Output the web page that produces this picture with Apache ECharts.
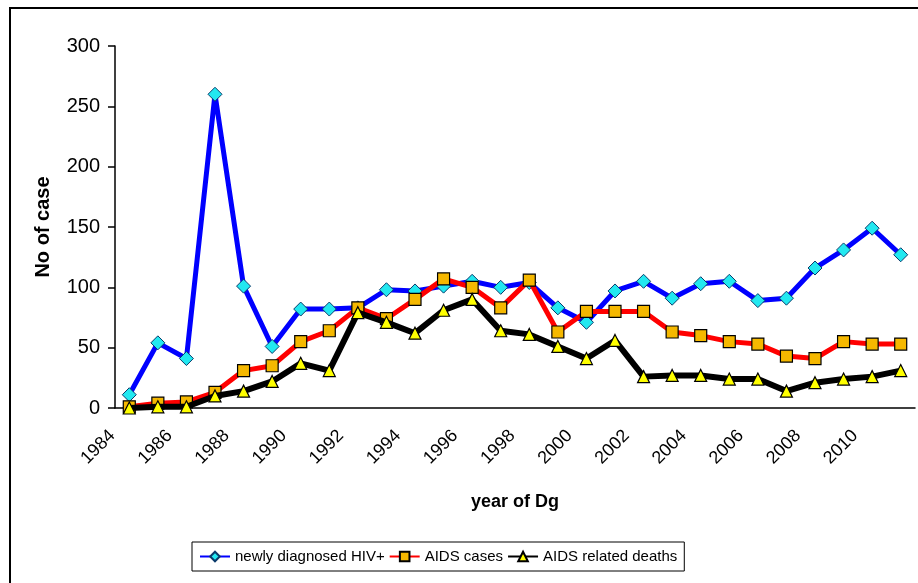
<!DOCTYPE html>
<html>
<head>
<meta charset="utf-8">
<script src="https://cdn.jsdelivr.net/npm/echarts@6/dist/echarts.min.js"></script>
<style>
  html, body { margin: 0; padding: 0; background: #fff; }
  #chart { width: 918px; height: 583px; }
</style>
</head>
<body>
<div id="chart"></div>
<script>
const years = ['1984','1985','1986','1987','1988','1989','1990','1991','1992','1993','1994','1995','1996','1997',
  '1998','1999','2000','2001','2002','2003','2004','2005','2006','2007','2008','2009','2010','2011']
const newlyDiagnosed = [11, 54, 41, 260, 101, 51, 82, 82, 83, 98, 97, 101, 105, 100,
  104, 83, 71, 97, 105, 91, 103, 105, 89, 91, 116, 131, 149, 127]
const aidsCases = [1, 4, 5, 13, 31, 35, 55, 64, 83, 74, 90, 107, 100, 83,
  106, 63, 80, 80, 80, 63, 60, 55, 53, 43, 41, 55, 53, 53]
const aidsDeaths = [0, 1, 1, 10, 14, 22, 37, 31, 79, 71, 62, 81, 90, 64,
  61, 51, 41, 56, 26, 27, 27, 24, 24, 14, 21, 24, 26, 31]
const yTicks = [0, 50, 100, 150, 200, 250, 300]

const font = "'Liberation Sans', Arial, sans-serif"
const chart = echarts.init(document.getElementById('chart'))
chart.setOption({
  animation: false,
  textStyle: { fontFamily: font },
  graphic: [
    {
      type: 'rect',
      shape: { x: 10, y: 8, width: 1000, height: 700 },
      style: { fill: 'none', stroke: '#000', lineWidth: 2 }
    }
  ],
  grid: { left: 115, right: 3, top: 46, bottom: 175 },
  legend: {
    left: 192,
    top: 542,
    padding: [7, 7],
    itemGap: 4,
    itemWidth: 30,
    itemHeight: 12,
    borderColor: '#000',
    borderWidth: 1,
    textStyle: { fontSize: 15, color: '#000' }
  },
  xAxis: {
    type: 'category',
    data: years,
    boundaryGap: true,
    name: 'year of Dg',
    nameLocation: 'middle',
    nameGap: 85,
    nameTextStyle: { fontSize: 18, fontWeight: 'bold', color: '#000' },
    axisLine: { lineStyle: { color: '#000', width: 1.5 } },
    axisTick: { alignWithLabel: false, length: 8, interval: 0, lineStyle: { color: '#000', width: 1.5 } },
    axisLabel: { interval: 1, rotate: 45, fontSize: 18, color: '#000', margin: 8, padding: [0, 24, 0, 0] }
  },
  yAxis: {
    type: 'value',
    min: yTicks[0],
    max: yTicks[yTicks.length - 1],
    interval: 50,
    name: 'No of case',
    nameLocation: 'middle',
    nameGap: 62,
    nameTextStyle: { fontSize: 20, fontWeight: 'bold', color: '#000' },
    splitLine: { show: false },
    axisLine: { show: true, lineStyle: { color: '#000', width: 1.5 } },
    axisTick: { show: true, length: 7, lineStyle: { color: '#000', width: 1.5 } },
    axisLabel: { fontSize: 20, color: '#000', margin: 15 }
  },
  series: [
    {
      name: 'newly diagnosed HIV+',
      type: 'line',
      data: newlyDiagnosed,
      symbol: 'diamond',
      symbolSize: 14,
      lineStyle: { color: '#0000ff', width: 5 },
      itemStyle: { color: '#22e8f0', borderColor: '#0a3a6a', borderWidth: 1 },
      z: 3
    },
    {
      name: 'AIDS cases',
      type: 'line',
      data: aidsCases,
      symbol: 'rect',
      symbolSize: 12,
      lineStyle: { color: '#ff0000', width: 5 },
      itemStyle: { color: '#f5b800', borderColor: '#000', borderWidth: 1.2 },
      z: 4
    },
    {
      name: 'AIDS related deaths',
      type: 'line',
      data: aidsDeaths,
      symbol: 'triangle',
      symbolSize: 12,
      lineStyle: { color: '#000', width: 6 },
      itemStyle: { color: '#ffff00', borderColor: '#000', borderWidth: 1.2 },
      z: 5
    }
  ]
})
</script>
</body>
</html>
